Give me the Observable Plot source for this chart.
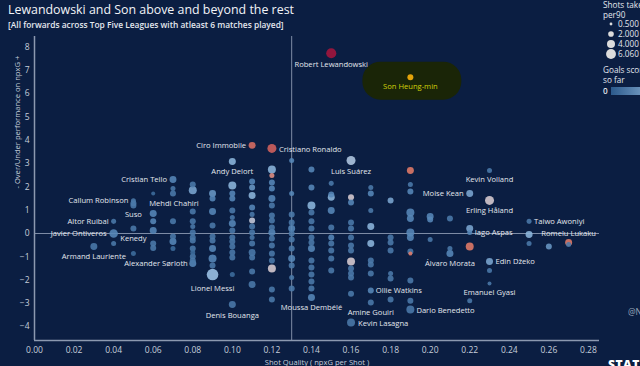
<!DOCTYPE html>
<html>
<head>
<meta charset="utf-8">
<script src="https://cdn.jsdelivr.net/npm/d3@7"></script>
<script src="https://cdn.jsdelivr.net/npm/@observablehq/plot@0.6"></script>
<style>
  html, body { margin: 0; padding: 0; background: #0b1e42; }
  #wrap { position: relative; width: 640px; height: 366px; overflow: hidden; background: #0b1e42; font-family: "Open Sans", "Noto Sans", sans-serif; }
  #head { height: 36px; padding-left: 8px; box-sizing: border-box; }
  #title { color: #f2f4f8; font-size: 12.4px; line-height: 14px; padding-top: 3px; white-space: nowrap; }
  #subtitle { color: #e4e8ef; font-size: 8.4px; font-weight: 600; line-height: 11px; padding-top: 2px; white-space: nowrap; }
  #legend { position: absolute; left: 600px; top: 0; }
  .wm { position: absolute; white-space: nowrap; }
</style>
</head>
<body>
<div id="wrap">
  <div id="head">
    <div id="title">Lewandowski and Son above and beyond the rest</div>
    <div id="subtitle">[All forwards across Top Five Leagues with atleast 6 matches played]</div>
  </div>
  <div id="chart"></div>
  <div id="legend"></div>
  <div class="wm" style="left:628px; top:306px; color:#9aa6b8; font-size:8.5px;">@N</div>
  <div class="wm" style="left:608px; top:356px; color:#ffffff; font-size:12px; font-weight:800; letter-spacing:0.5px;">STAT</div>
</div>
<script>
// ---------- DATA ----------
const xTicks = [0, 0.02, 0.04, 0.06, 0.08, 0.10, 0.12, 0.14, 0.16, 0.18, 0.20, 0.22, 0.24, 0.26, 0.28];
const yTicks = [-4, -3, -2, -1, 0, 1, 2, 3, 4, 5, 6, 7, 8];
const sizeLegend = [0.5, 2, 4, 6.06];
const sizeLegendLabels = ["0.500", "2.000", "4.000", "6.060"];

// labeled players: name, shot quality (npxG/shot), over/under performance, shots per90, goals
const labeledPlayers = [
  {name: "Robert Lewandowski", xq: 0.15, perf: 7.73, shots: 4.6, goals: 22},
  {name: "Son Heung-min", xq: 0.19, perf: 6.70, shots: 1.62, goals: 12},
  {name: "Ciro Immobile", xq: 0.11, perf: 3.78, shots: 2.2, goals: 15},
  {name: "Cristiano Ronaldo", xq: 0.12, perf: 3.65, shots: 3.65, goals: 16},
  {name: "Andy Delort", xq: 0.10, perf: 3.09, shots: 2.2, goals: 6},
  {name: "Luis Suárez", xq: 0.16, perf: 3.13, shots: 3.65, goals: 8},
  {name: "Cristian Tello", xq: 0.07, perf: 2.32, shots: 2.2, goals: 3},
  {name: "Callum Robinson", xq: 0.05, perf: 1.40, shots: 1.13, goals: 2},
  {name: "Mehdi Chahiri", xq: 0.07, perf: 1.72, shots: 1.62, goals: 2},
  {name: "Suso", xq: 0.05, perf: 1.20, shots: 1.62, goals: 2},
  {name: "Altor Ruibal", xq: 0.04, perf: 0.52, shots: 1.13, goals: 2},
  {name: "Javier Ontiveros", xq: 0.04, perf: 0.00, shots: 3.3, goals: 3},
  {name: "Kenedy", xq: 0.05, perf: 0.21, shots: 1.62, goals: 2},
  {name: "Armand Lauriente", xq: 0.03, perf: -0.56, shots: 2.2, goals: 2},
  {name: "Alexander Sørloth", xq: 0.08, perf: -1.29, shots: 2.2, goals: 3},
  {name: "Lionel Messi", xq: 0.09, perf: -1.76, shots: 6.06, goals: 7},
  {name: "Denis Bouanga", xq: 0.10, perf: -3.05, shots: 2.2, goals: 2},
  {name: "Moussa Dembélé", xq: 0.14, perf: -2.75, shots: 2.2, goals: 3},
  {name: "Ollie Watkins", xq: 0.17, perf: -2.45, shots: 1.62, goals: 3},
  {name: "Amine Gouiri", xq: 0.17, perf: -2.96, shots: 1.62, goals: 2},
  {name: "Kevin Lasagna", xq: 0.16, perf: -3.82, shots: 2.88, goals: 2},
  {name: "Dario Benedetto", xq: 0.19, perf: -3.26, shots: 2.88, goals: 2},
  {name: "Emanuel Gyasi", xq: 0.23, perf: -2.15, shots: 0.72, goals: 2},
  {name: "Edin Džeko", xq: 0.23, perf: -1.20, shots: 2.2, goals: 5},
  {name: "Álvaro Morata", xq: 0.21, perf: -0.86, shots: 2.2, goals: 3},
  {name: "Iago Aspas", xq: 0.22, perf: 0.04, shots: 1.13, goals: 3},
  {name: "Romelu Lukaku", xq: 0.27, perf: -0.39, shots: 2.2, goals: 14},
  {name: "Taiwo Awoniyi", xq: 0.25, perf: 0.52, shots: 1.13, goals: 2},
  {name: "Erling Håland", xq: 0.23, perf: 1.42, shots: 3.65, goals: 10},
  {name: "Moise Kean", xq: 0.22, perf: 1.72, shots: 2.2, goals: 5},
  {name: "Kevin Volland", xq: 0.23, perf: 2.70, shots: 1.13, goals: 2}
];

// unlabeled players: [shot quality, performance, shots per90, goals]
const otherPlayers = [
  [0.04, -0.43, 1.13, 2],
  [0.05, 1.30, 1.62, 2], [0.05, -0.86, 1.13, 1],
  [0.06, 1.72, 0.72, 1], [0.06, 0.86, 2.2, 3], [0.06, 0.52, 1.62, 3], [0.06, 0.13, 2.2, 3], [0.06, -0.43, 1.62, 2], [0.06, -0.62, 1.62, 2],
  [0.07, 1.93, 1.13, 2], [0.07, 0.52, 1.62, 2], [0.07, -0.13, 1.62, 2], [0.07, -0.34, 2.2, 3], [0.07, -0.64, 1.13, 1],
  [0.08, 2.10, 1.62, 2], [0.08, 1.85, 2.88, 5], [0.08, 0.94, 1.62, 2], [0.08, 0.52, 1.62, 2], [0.08, 0.30, 1.13, 2], [0.08, 0.04, 1.62, 2],
  [0.08, -0.17, 1.62, 2], [0.08, -0.30, 1.62, 2], [0.08, -0.64, 1.62, 2], [0.08, -0.82, 1.13, 1], [0.08, -0.99, 1.62, 2], [0.08, -1.16, 1.62, 2],
  [0.09, 1.72, 2.2, 4], [0.09, 1.50, 1.62, 3], [0.09, 0.94, 2.2, 3], [0.09, 0.34, 1.62, 2], [0.09, -0.13, 1.62, 2], [0.09, -0.30, 1.62, 2],
  [0.09, -0.64, 2.2, 3], [0.09, -1.07, 2.88, 3], [0.09, -1.37, 1.62, 2],
  [0.10, 2.06, 2.88, 6], [0.10, 1.72, 1.62, 3], [0.10, 1.50, 1.62, 3], [0.10, 0.99, 1.62, 2], [0.10, 0.69, 1.13, 2], [0.10, 0.43, 2.2, 3],
  [0.10, 0.13, 1.62, 2], [0.10, -0.17, 1.62, 2], [0.10, -0.34, 1.62, 2], [0.10, -0.56, 1.62, 2], [0.10, -0.82, 1.62, 2], [0.10, -1.03, 1.62, 2],
  [0.10, -1.76, 1.13, 1],
  [0.11, 2.23, 1.62, 3], [0.11, 1.97, 1.62, 4], [0.11, 1.63, 2.2, 6], [0.11, 1.12, 1.62, 3], [0.11, 0.82, 1.13, 2], [0.11, 0.56, 1.62, 9],
  [0.11, 0.30, 1.62, 2], [0.11, 0.04, 1.62, 2], [0.11, -0.17, 1.13, 2], [0.11, -0.43, 1.62, 2], [0.11, -0.82, 2.2, 2], [0.11, -1.03, 1.62, 2],
  [0.11, -1.63, 1.62, 2], [0.11, -2.19, 2.2, 2],
  [0.12, 2.75, 2.88, 6], [0.12, 2.49, 1.13, 13], [0.12, 2.19, 1.62, 3], [0.12, 1.93, 1.62, 3], [0.12, 1.50, 2.2, 3], [0.12, 1.20, 1.62, 2],
  [0.12, 0.77, 1.62, 2], [0.12, 0.56, 1.62, 2], [0.12, 0.26, 1.62, 2], [0.12, 0.04, 2.2, 3], [0.12, -0.21, 1.62, 2], [0.12, -0.52, 1.62, 2],
  [0.12, -0.86, 1.62, 2], [0.12, -1.16, 1.62, 2], [0.12, -1.50, 2.88, 10], [0.12, -2.40, 1.62, 2], [0.12, -2.83, 1.62, 2],
  [0.13, 3.13, 1.13, 3], [0.13, 1.72, 1.13, 3], [0.13, 0.82, 1.62, 2], [0.13, 0.47, 1.62, 2], [0.13, 0.21, 2.2, 3], [0.13, 0.00, 1.62, 2],
  [0.13, -0.26, 1.62, 2], [0.13, -0.64, 1.62, 2], [0.13, -1.07, 2.2, 3], [0.13, -1.37, 1.62, 2], [0.13, -1.89, 1.13, 2], [0.13, -2.36, 1.62, 2],
  [0.14, 2.75, 1.62, 3], [0.14, 1.97, 1.62, 3], [0.14, 1.20, 2.88, 6], [0.14, 0.90, 1.62, 2], [0.14, 0.52, 1.62, 2], [0.14, 0.21, 1.62, 2],
  [0.14, -0.17, 1.62, 2], [0.14, -0.39, 1.62, 2], [0.14, -0.64, 2.2, 3], [0.14, -1.16, 1.62, 2], [0.14, -1.46, 1.62, 2], [0.14, -1.76, 1.62, 2],
  [0.14, -2.06, 1.62, 2], [0.14, -2.36, 1.62, 2],
  [0.15, 2.15, 1.13, 2], [0.15, 1.67, 1.62, 3], [0.15, 1.55, 2.2, 6], [0.15, 0.99, 2.2, 3], [0.15, 0.26, 1.62, 2], [0.15, -0.17, 1.62, 3],
  [0.15, -0.43, 1.62, 2], [0.15, -0.73, 1.62, 2], [0.15, -1.07, 1.62, 2], [0.15, -1.59, 1.62, 2],
  [0.16, 1.55, 1.62, 10], [0.16, 1.33, 1.62, 3], [0.16, 0.47, 1.62, 2], [0.16, 0.21, 1.62, 2], [0.16, -0.17, 1.62, 2], [0.16, -0.52, 1.62, 2],
  [0.16, -0.73, 1.62, 2], [0.16, -1.20, 2.88, 10], [0.16, -1.50, 1.62, 2], [0.16, -1.72, 1.62, 2], [0.16, -1.89, 1.62, 2], [0.16, -2.58, 1.62, 2],
  [0.17, 1.97, 1.13, 2], [0.17, 1.72, 1.62, 3], [0.17, 0.99, 1.13, 2], [0.17, 0.30, 2.2, 6], [0.17, -0.43, 2.2, 6], [0.17, -1.16, 1.62, 2],
  [0.17, -1.33, 1.62, 2], [0.17, -1.72, 1.62, 2],
  [0.18, 1.42, 1.62, 5], [0.18, -0.17, 1.62, 2], [0.18, -0.39, 1.62, 2], [0.18, -0.73, 1.62, 2], [0.18, -1.72, 1.13, 2], [0.18, -1.93, 1.62, 2],
  [0.18, -2.83, 1.62, 2],
  [0.19, 2.70, 2.2, 14], [0.19, 2.10, 1.13, 2], [0.19, 1.80, 1.62, 3], [0.19, 0.90, 2.88, 3], [0.19, 0.64, 2.2, 3], [0.19, 0.04, 2.88, 3],
  [0.19, -0.17, 2.2, 3], [0.19, -0.77, 1.62, 2], [0.19, -0.86, 0.72, 14], [0.19, -2.02, 1.62, 2], [0.19, -2.88, 1.62, 2],
  [0.20, 0.73, 2.2, 3], [0.20, 0.60, 1.62, 3], [0.20, -0.26, 1.13, 2],
  [0.21, 0.64, 1.62, 2], [0.21, -0.64, 1.13, 2],
  [0.22, 0.21, 2.2, 5], [0.22, -0.56, 2.88, 14], [0.22, -2.88, 1.13, 2],
  [0.23, -1.59, 1.13, 2],
  [0.25, -0.04, 2.2, 6], [0.25, -0.43, 1.13, 2],
  [0.26, -0.56, 1.62, 4],
  [0.27, -0.47, 1.13, 2]
];

const highlightedPlayer = "Son Heung-min";
const highlightBox = [{x1: 0.166, x2: 0.216, y1: 5.72, y2: 7.35}];

// label placement: [textAnchor, dx, dy]
const labelPlacement = {
  "Robert Lewandowski": ["middle", 0, 11], "Son Heung-min": ["middle", 0, 9],
  "Ciro Immobile": ["end", -6, 0], "Cristiano Ronaldo": ["start", 7, 1],
  "Andy Delort": ["middle", 0, 10], "Luis Suárez": ["middle", 0, 11],
  "Cristian Tello": ["end", -6, 0], "Callum Robinson": ["end", -5, 0],
  "Mehdi Chahiri": ["middle", 1, 10], "Suso": ["middle", 0, 9],
  "Altor Ruibal": ["end", -5, 0], "Javier Ontiveros": ["end", -7, 0],
  "Kenedy": ["middle", 0, 10], "Armand Lauriente": ["middle", 0, 10],
  "Alexander Sørloth": ["end", -5, 0], "Lionel Messi": ["middle", 0, 14],
  "Denis Bouanga": ["middle", 0, 11], "Moussa Dembélé": ["middle", 0, 10],
  "Ollie Watkins": ["start", 5, 0], "Amine Gouiri": ["middle", 0, 10],
  "Kevin Lasagna": ["start", 7, 1], "Dario Benedetto": ["start", 6, 1],
  "Emanuel Gyasi": ["middle", 0, 9], "Edin Džeko": ["start", 6, 0],
  "Álvaro Morata": ["middle", 0, 10], "Iago Aspas": ["start", 5, 0],
  "Romelu Lukaku": ["middle", 0, -9], "Taiwo Awoniyi": ["start", 5, 0],
  "Erling Håland": ["middle", 0, 10], "Moise Kean": ["end", -6, 0],
  "Kevin Volland": ["middle", 0, 9]
};

// ---------- BUILD ----------
const xDomain = [0, 0.2856];
const yDomain = [-4.59, 8.45];
const bg = "#0b1e42";
const lineColor = "#7f8da6";
const textColor = "#e3e7ee";

const points = labeledPlayers.concat(otherPlayers.map(([xq, perf, shots, goals]) => ({name: "", xq, perf, shots, goals})));
const mainPoints = points.filter(d => d.name !== highlightedPlayer).sort((a, b) => d3.descending(a.shots, b.shots));
const hiPoints = points.filter(d => d.name === highlightedPlayer);

const labelMarks = labeledPlayers.map(d => {
  const [anchor, dx, dy] = labelPlacement[d.name];
  return Plot.text([d], {
    x: "xq", y: "perf", text: "name", textAnchor: anchor, dx, dy,
    fill: d.name === highlightedPlayer ? "#d2d108" : textColor,
    fontSize: 7.6
  });
});

const chart = Plot.plot({
  width: 640, height: 330,
  marginTop: 0, marginRight: 41, marginBottom: 26, marginLeft: 34,
  style: {background: bg, color: "#c6cedb", fontFamily: "'Open Sans', 'Noto Sans', sans-serif", fontSize: "8.5px", overflow: "visible"},
  x: {domain: xDomain},
  y: {domain: yDomain},
  r: {type: "sqrt", domain: [0, 6.06], range: [0, 5.8]},
  color: {type: "linear", domain: [0, 3, 7, 10, 14, 22], range: ["#32608f", "#5787b8", "#9ec5e8", "#dacdd2", "#e37b68", "#a5163c"]},
  marks: [
    Plot.rect(highlightBox, {x1: "x1", x2: "x2", y1: "y1", y2: "y2", fill: "#1a2507", rx: 18}),
    Plot.ruleY([0], {stroke: lineColor, strokeWidth: 1}),
    Plot.ruleX([0.13], {stroke: lineColor, strokeWidth: 1}),
    Plot.ruleX([xDomain[0]], {stroke: "#8c99b0", strokeWidth: 1.5}),
    Plot.ruleY([yDomain[0]], {stroke: "#8c99b0", strokeWidth: 1.5}),
    Plot.axisX({ticks: xTicks, tickSize: 0, tickPadding: 6, tickFormat: d3.format(".2f"), label: null}),
    Plot.axisY({ticks: yTicks, tickSize: 0, tickPadding: 5, label: null}),
    Plot.dot(mainPoints, {x: "xq", y: "perf", r: "shots", fill: "goals", fillOpacity: 0.88}),
    Plot.dot(hiPoints, {x: "xq", y: "perf", r: "shots", fill: "#e2a30a"}),
    ...labelMarks,
    Plot.text(["Shot Quality ( npxG per Shot )"], {frameAnchor: "bottom", dy: 24, text: d => d, fill: "#c6cedb", fontSize: 7.6}),
    Plot.text(["- Over/Under performance on npxG +"], {frameAnchor: "left", dx: -17, rotate: -90, text: d => d, fill: "#c6cedb", fontSize: 7.6})
  ]
});
document.getElementById("chart").appendChild(chart);

// ---------- LEGEND ----------
const rScale = chart.scale("r");
const lg = d3.select("#legend").append("svg").attr("width", 40).attr("height", 100)
  .style("font-family", "'Open Sans', 'Noto Sans', sans-serif").style("font-size", "8.2px").style("overflow", "visible");
lg.append("text").attr("x", 3).attr("y", 8).attr("fill", textColor).text("Shots taken");
lg.append("text").attr("x", 3).attr("y", 17.5).attr("fill", textColor).text("per90");
sizeLegend.forEach((v, i) => {
  const cy = 24 + i * 10;
  lg.append("circle").attr("cx", 11).attr("cy", cy).attr("r", rScale.apply(v) * 0.85).attr("fill", "#dcdcdc");
  lg.append("text").attr("x", 18).attr("y", cy + 3).attr("fill", textColor).text(sizeLegendLabels[i]);
});
lg.append("text").attr("x", 3).attr("y", 73).attr("fill", textColor).text("Goals scored");
lg.append("text").attr("x", 3).attr("y", 83).attr("fill", textColor).text("so far");
lg.append("text").attr("x", 3).attr("y", 94).attr("fill", textColor).style("font-weight", "600").text("0");
const grad = lg.append("defs").append("linearGradient").attr("id", "gsc");
grad.append("stop").attr("offset", "0%").attr("stop-color", "#2c5a8c");
grad.append("stop").attr("offset", "100%").attr("stop-color", "#a9cbeb");
lg.append("rect").attr("x", 11).attr("y", 87).attr("width", 60).attr("height", 8).attr("fill", "url(#gsc)");
</script>
</body>
</html>
